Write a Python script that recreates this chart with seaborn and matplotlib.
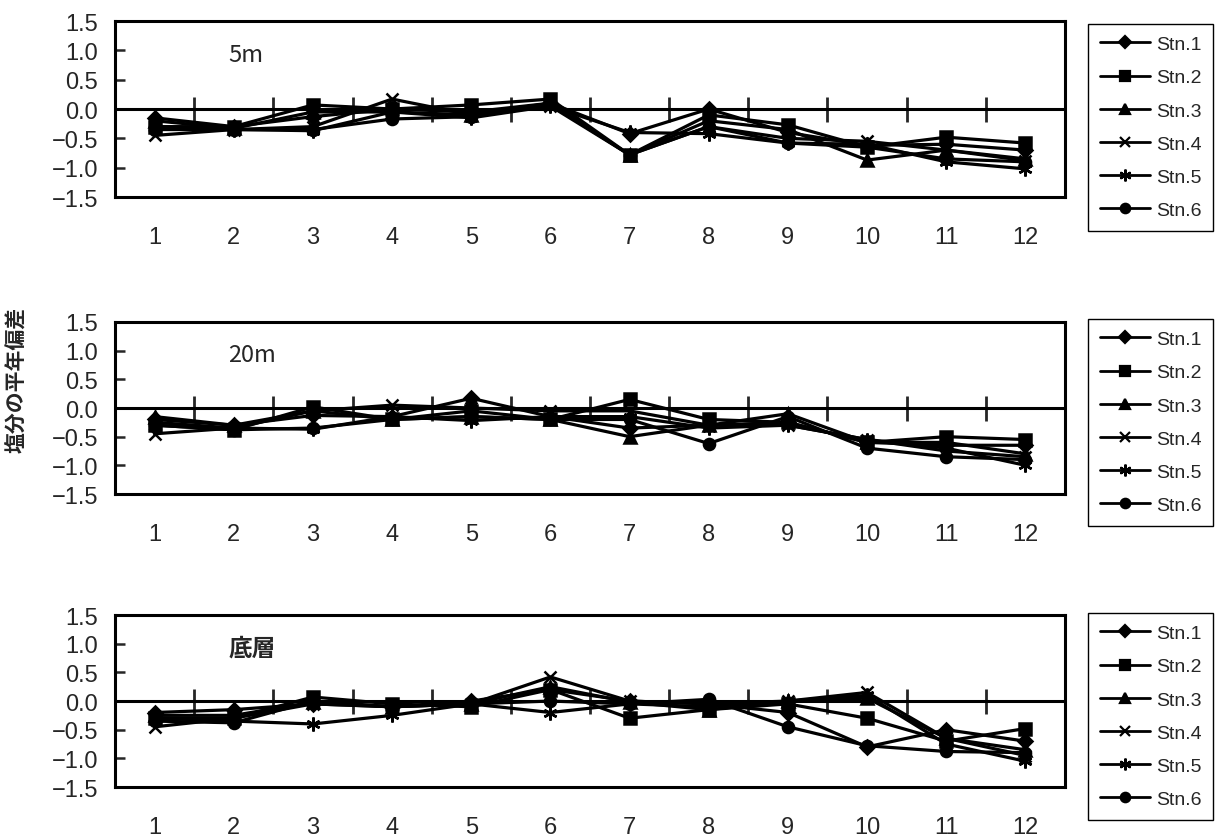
import numpy as np
import pandas as pd
import matplotlib
matplotlib.use("Agg")
import matplotlib.pyplot as plt
import seaborn as sns

months = list(range(1, 13))
stations = ["Stn.1", "Stn.2", "Stn.3", "Stn.4", "Stn.5", "Stn.6"]
panel_titles = ["5m", "20m", "底層"]
ylabel_text = "塩分の平年偏差"
yticks = [1.5, 1.0, 0.5, 0.0, -0.5, -1.0, -1.5]

d5_stn1 = [-0.15, -0.30, -0.13, 0.00, -0.05, 0.10, -0.42, 0.00, -0.40, -0.62, -0.60, -0.70]
d5_stn2 = [-0.30, -0.30, 0.07, 0.00, 0.07, 0.17, -0.78, -0.10, -0.27, -0.65, -0.48, -0.58]
d5_stn3 = [-0.20, -0.33, -0.05, -0.05, -0.10, 0.10, -0.78, -0.20, -0.35, -0.87, -0.70, -0.85]
d5_stn4 = [-0.45, -0.35, -0.30, 0.17, -0.10, 0.05, -0.78, -0.30, -0.50, -0.55, -0.70, -0.88]
d5_stn5 = [-0.30, -0.35, -0.37, -0.05, -0.15, 0.05, -0.40, -0.42, -0.58, -0.60, -0.90, -1.02]
d5_stn6 = [-0.35, -0.35, -0.35, -0.17, -0.13, 0.08, -0.78, -0.30, -0.58, -0.65, -0.85, -0.90]

d20_stn1 = [-0.20, -0.30, -0.13, -0.15, 0.17, -0.15, -0.35, -0.30, -0.25, -0.60, -0.65, -0.65]
d20_stn2 = [-0.30, -0.38, 0.02, -0.20, -0.05, -0.20, 0.15, -0.20, -0.25, -0.60, -0.50, -0.55]
d20_stn3 = [-0.15, -0.30, -0.05, -0.20, -0.15, -0.20, -0.50, -0.30, -0.10, -0.60, -0.60, -0.80]
d20_stn4 = [-0.45, -0.35, -0.05, 0.05, 0.00, -0.05, -0.05, -0.30, -0.30, -0.55, -0.75, -0.85]
d20_stn5 = [-0.25, -0.35, -0.37, -0.15, -0.22, -0.15, -0.15, -0.35, -0.30, -0.55, -0.70, -1.00]
d20_stn6 = [-0.30, -0.38, -0.35, -0.20, -0.15, -0.20, -0.20, -0.62, -0.15, -0.70, -0.85, -0.90]

dB_stn1 = [-0.20, -0.15, -0.05, -0.10, 0.00, 0.20, 0.00, -0.05, -0.20, -0.80, -0.50, -0.70]
dB_stn2 = [-0.30, -0.30, 0.07, -0.05, -0.10, 0.20, -0.30, -0.15, -0.05, -0.30, -0.70, -0.48]
dB_stn3 = [-0.25, -0.25, -0.02, -0.10, -0.05, 0.25, -0.02, -0.15, 0.00, 0.05, -0.65, -0.85]
dB_stn4 = [-0.45, -0.30, -0.05, -0.10, -0.05, 0.42, 0.00, -0.05, 0.00, 0.15, -0.65, -0.95]
dB_stn5 = [-0.30, -0.35, -0.40, -0.25, -0.05, -0.20, -0.05, -0.10, 0.00, 0.10, -0.75, -1.05]
dB_stn6 = [-0.35, -0.38, 0.00, -0.10, -0.05, 0.00, -0.05, 0.03, -0.45, -0.78, -0.88, -0.90]

panels = [
    [d5_stn1, d5_stn2, d5_stn3, d5_stn4, d5_stn5, d5_stn6],
    [d20_stn1, d20_stn2, d20_stn3, d20_stn4, d20_stn5, d20_stn6],
    [dB_stn1, dB_stn2, dB_stn3, dB_stn4, dB_stn5, dB_stn6],
]

sns.set_style("white")
plt.rcParams["font.family"] = ["Liberation Sans", "Noto Sans CJK JP", "DejaVu Sans"]

markers = {"Stn.1": "D", "Stn.2": "s", "Stn.3": "^", "Stn.4": "x",
           "Stn.5": (6, 2, 0), "Stn.6": "o"}
msizes = {"Stn.1": 7, "Stn.2": 8, "Stn.3": 8, "Stn.4": 9, "Stn.5": 10, "Stn.6": 8}

fig = plt.figure(figsize=(12.17, 8.37), dpi=100)
fig.patch.set_facecolor("white")

ax_rects = [
    (0.0945, 0.7634, 0.7806, 0.2103),
    (0.0945, 0.4086, 0.7806, 0.2055),
    (0.0945, 0.0585, 0.7806, 0.2055),
]
legend_tops = [0.9701, 0.6177, 0.2664]
boundaries = np.array(months[:-1]) + 0.5

for i, (rect, series, title) in enumerate(zip(ax_rects, panels, panel_titles)):
    ax = fig.add_axes(rect)
    for s, vals in zip(stations, series):
        df = pd.DataFrame({"month": months, "value": vals})
        sns.lineplot(data=df, x="month", y="value", color="black",
                     marker=markers[s], markersize=msizes[s], linewidth=2.3,
                     markeredgewidth=1.8, markeredgecolor="black",
                     markerfacecolor="black", ax=ax, legend=False, sort=False,
                     zorder=3)
    ax.set_xlim(0.5, 12.5)
    ax.set_ylim(-1.5, 1.5)
    ax.set_xticks(months)
    ax.set_xticklabels([str(m) for m in months], fontsize=17)
    ax.set_yticks(yticks)
    ax.set_yticklabels([f"{t:.1f}".replace("-", "\u2212") for t in yticks], fontsize=17)
    ax.tick_params(axis="x", length=0, pad=21)
    ax.tick_params(axis="y", direction="in", length=7, width=1.8, pad=12, left=True)
    ax.set_xlabel("")
    ax.set_ylabel("")
    for sp in ax.spines.values():
        sp.set_color("black")
        sp.set_linewidth(2.2)
    # zero axis with category-boundary tick marks
    ax.axhline(0, color="black", linewidth=2.2, zorder=2)
    sec = ax.secondary_xaxis(0.5)
    sec.set_xticks(boundaries)
    sec.tick_params(axis="x", direction="inout", length=18, width=2.0,
                    labelbottom=False, labeltop=False)
    sec.spines["bottom"].set_linewidth(2.2)
    sec.spines["bottom"].set_color("black")
    ax.text(0.119, 0.81, title, transform=ax.transAxes, fontsize=17,
            ha="left", va="center",
            fontweight="bold" if title == "底層" else "normal",
            family=["Noto Sans CJK JP", "Liberation Sans"])
    handles = [plt.Line2D([], [], color="black", lw=2.0, marker=markers[s],
                          markersize=msizes[s] * 0.85, markeredgewidth=1.6,
                          markerfacecolor="black", markeredgecolor="black")
               for s in stations]
    leg = fig.legend(handles, stations, loc="upper left",
                     bbox_to_anchor=(0.894, legend_tops[i]), fontsize=14,
                     frameon=True, fancybox=False, edgecolor="black",
                     framealpha=1, handlelength=2.6, handletextpad=0.3,
                     labelspacing=0.8, borderpad=0.6, borderaxespad=0)
    leg.get_frame().set_linewidth(1.0)

fig.text(0.013, 0.546, ylabel_text, rotation=90, ha="center", va="center",
         fontsize=15, fontweight="bold", family=["Noto Sans CJK JP", "DejaVu Sans"])

fig.savefig("out.png", dpi=100, facecolor="white")
